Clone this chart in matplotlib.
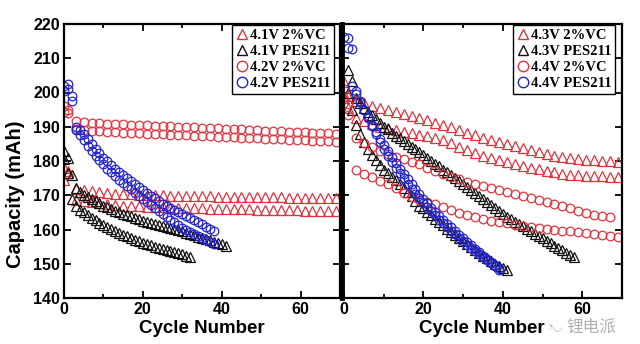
import matplotlib
matplotlib.use("Agg")
import matplotlib.pyplot as plt
from matplotlib.lines import Line2D
from matplotlib.font_manager import FontProperties

RED = "#e3323e"
BLUE = "#2424cc"
BLACK = "#111111"

# cycle numbers (red series were logged every second cycle)
cyc_step2 = [0, 1] + list(range(3, 71, 2))

# ---------------- left panel: 4.1 V / 4.2 V ----------------
vc41_a = [178, 177, 171.8, 171.4, 171.1, 170.9, 170.7, 170.5, 170.4, 170.3, 170.2, 170.1,
          170, 170, 169.9, 169.9, 169.8, 169.8, 169.7, 169.7, 169.6, 169.6, 169.6, 169.5,
          169.5, 169.5, 169.4, 169.4, 169.4, 169.3, 169.3, 169.3, 169.2, 169.2, 169.2, 169.1]
vc41_b = [174.5, 176.5, 168.6, 168.2, 167.9, 167.6, 167.4, 167.2, 167, 166.9, 166.8, 166.7,
          166.6, 166.5, 166.4, 166.3, 166.3, 166.2, 166.2, 166.1, 166.1, 166, 166, 165.9,
          165.9, 165.8, 165.8, 165.7, 165.7, 165.6, 165.6, 165.5, 165.5, 165.4, 165.4, 165.3]
vc42_a = [196, 195, 191.6, 191.4, 191.2, 191, 190.9, 190.8, 190.7, 190.6, 190.5, 190.4,
          190.3, 190.2, 190.1, 190, 189.9, 189.8, 189.7, 189.6, 189.5, 189.4, 189.3, 189.2,
          189.1, 189, 188.9, 188.8, 188.7, 188.6, 188.5, 188.4, 188.3, 188.2, 188.1, 188]
vc42_b = [194.4, 194, 189.3, 189.1, 188.9, 188.7, 188.5, 188.4, 188.3, 188.2, 188.1, 188,
          187.9, 187.8, 187.7, 187.6, 187.5, 187.4, 187.3, 187.2, 187.1, 187, 186.9, 186.8,
          186.7, 186.6, 186.5, 186.4, 186.3, 186.2, 186.1, 186, 185.9, 185.8, 185.7, 185.6]
pes41_a = [183, 181, 176, 172, 171, 170.2, 169.5, 168.8, 168.2, 167.6, 167, 166.5, 166,
           165.5, 165, 164.6, 164.2, 163.8, 163.4, 163, 162.6, 162.3, 162, 161.6, 161.3,
           161, 160.7, 160.4, 160.1, 159.8, 159.5, 159.1, 158.7, 158.3, 157.9, 157.5,
           157.2, 156.8, 156.4, 156.0, 155.7, 155.3]
pes41_b = [180.5, 176.5, 169, 166.8, 165.8, 165, 164.2, 163.4, 162.7, 162, 161.3, 160.7,
           160.1, 159.5, 159, 158.5, 158, 157.5, 157, 156.6, 156.2, 155.8, 155.4, 155,
           154.6, 154.3, 154, 153.7, 153.4, 153.1, 152.8, 152.4, 151.9]
pes42_a = [202, 202.5, 199, 190, 189, 188, 186.5, 185, 183.6, 182.3, 181, 179.9, 178.8,
           177.8, 176.9, 176, 175.1, 174.2, 173.3, 172.4, 171.5, 170.7, 169.9, 169.1,
           168.3, 167.5, 166.9, 166.3, 165.7, 165.1, 164.5, 163.9, 163.3, 162.7, 162.1,
           161.5, 160.8, 160.1, 159.5]
pes42_b = [200.5, 201, 197.5, 189, 187.5, 186, 184.5, 183, 181.6, 180.3, 179, 177.8,
           176.7, 175.6, 174.5, 173.5, 172.6, 171.7, 170.8, 169.9, 169, 168.1, 167.2,
           166.3, 165.4, 164.5, 163.7, 162.9, 162.1, 161.3, 160.5, 159.9, 159.3, 158.7,
           158.1, 157.5, 156.9, 156.3, 155.8]

# ---------------- right panel: 4.3 V / 4.4 V ----------------
vc43_a = [203, 199, 197.5, 196.8, 196.1, 195.5, 194.9, 194.3, 193.7, 193.1, 192.5, 191.9,
          191.2, 190.5, 189.8, 189.1, 188.3, 187.5, 186.8, 186.1, 185.5, 184.9, 184.3,
          183.7, 183.1, 182.5, 182, 181.5, 181.1, 180.9, 180.6, 180.4, 180.2, 180, 179.9, 179.8]
vc43_b = [198.5, 195.5, 192.5, 191.7, 190.8, 190, 189.5, 189, 188.6, 188.1, 187.6, 187.2,
          186.8, 186.2, 185.2, 184.2, 183.3, 182.4, 181.5, 180.8, 180.2, 179.6, 179.1,
          178.6, 178.1, 177.6, 177.1, 176.7, 176.3, 176, 175.8, 175.7, 175.6, 175.5, 175.4, 175.4]
vc44_a = [201, 196.5, 186.6, 185.3, 184.1, 182.9, 182, 181.3, 180.6, 179.8, 179, 178.1,
          177.2, 176.2, 175.3, 174.6, 174, 173.4, 172.8, 172.2, 171.6, 171, 170.3, 169.7,
          169.1, 168.6, 168, 167.4, 166.8, 166.2, 165.5, 164.8, 164.1, 163.8, 163.7]
vc44_b = [198, 193.5, 177.3, 176.3, 175.4, 174.2, 173.2, 172, 170.6, 169.5, 168.7, 168,
          167.4, 166.7, 165.6, 164.8, 164.1, 163.6, 163.1, 162.6, 162.2, 161.8, 161.4,
          161.1, 160.8, 160.5, 160.2, 159.9, 159.7, 159.5, 159.3, 159, 158.7, 158.4, 158.2, 157.9]
pes43_a = [206.5, 203.3, 198.5, 196.8, 195.6, 194.4, 193.3, 192.2, 191.1, 190, 189.2,
           188.3, 187.4, 186.6, 185.8, 185, 184.2, 183.4, 182.6, 181.8, 181, 180.1, 179.2,
           178.4, 177.5, 176.7, 175.8, 174.9, 174.1, 173.2, 172.3, 171.5, 170.6, 169.8,
           168.9, 168.0, 167.2, 166.3, 165.5, 164.6, 163.7, 163.0, 162.3, 161.6, 160.9,
           160.2, 159.5, 158.8, 158.1, 157.4, 156.7, 156.0, 155.3, 154.6, 153.9, 153.2,
           152.5, 151.9]
pes43_b = [200, 195, 190.5, 188, 185.5, 183.5, 181.8, 180.2, 178.8, 177.4, 176.4, 175.4,
           174.4, 173.3, 172.2, 171, 169.7, 168.3, 167, 166.2, 165.1, 164.1, 163.1, 162.1,
           161.2, 160.2, 159.3, 158.4, 157.5, 156.6, 155.7, 154.9, 154, 153.2, 152.4,
           151.6, 150.8, 150, 149.3, 148.7, 148.1]
pes44_a = [216.3, 213, 202, 199.5, 197.2, 195, 192.8, 190.6, 188.5, 186.5, 184.6, 182.8,
           181.1, 179.4, 177.8, 176.2, 174.7, 173.2, 171.8, 170.4, 169, 167.7, 166.4,
           165.2, 164, 162.8, 161.7, 160.6, 159.5, 158.4, 157.4, 156.4, 155.4, 154.4,
           153.4, 152.4, 151.4, 150.5, 149.6, 148.7]
pes44_b = [216, 212.8, 200.5, 197.6, 195, 192.5, 190.1, 187.8, 185.6, 183.5, 181.6, 179.8,
           178.1, 176.5, 174.9, 173.4, 171.9, 170.5, 169.1, 167.8, 166.5, 165.3, 164.1,
           162.9, 161.8, 160.7, 159.6, 158.6, 157.6, 156.6, 155.6, 154.6, 153.7, 152.8,
           151.9, 151, 150.1, 149.2, 148.3]

left_labels = ["4.1V 2%VC", "4.1V PES211", "4.2V 2%VC", "4.2V PES211"]
right_labels = ["4.3V 2%VC", "4.3V PES211", "4.4V 2%VC", "4.4V PES211"]
styles = [("^", RED), ("^", BLACK), ("o", RED), ("o", BLUE)]


def pts(ax, x, y, marker, color):
    ax.plot(x, y, ls="none", marker=marker, mfc="none", mec=color,
            ms=6.8 if marker == "^" else 6.2, mew=0.9)


def style_axes(ax):
    ax.set_ylim(140, 220)
    ax.set_yticks(range(140, 221, 10))
    ax.set_xticks([0, 20, 40, 60])
    ax.set_xticks([10, 30, 50, 70], minor=True)
    ax.tick_params(which="both", direction="in", top=True, right=True, width=1.3)
    ax.tick_params(which="major", length=5, labelsize=11.5, pad=3)
    ax.tick_params(which="minor", length=3)
    for s in ax.spines.values():
        s.set_linewidth(1.6)
    for lab in ax.get_xticklabels() + ax.get_yticklabels():
        lab.set_fontweight("bold")
    ax.set_xlabel("Cycle Number", fontsize=13.5, fontweight="bold", labelpad=2)


def add_legend(ax, labels, xa):
    handles = [Line2D([], [], ls="none", marker=m, mfc="none", mec=c, ms=7.5, mew=1)
               for m, c in styles]
    leg = ax.legend(handles, labels, loc="upper right", bbox_to_anchor=(xa, 0.997),
                    borderaxespad=0, fancybox=False, edgecolor="black", framealpha=1,
                    prop=FontProperties(family="Liberation Serif", weight="bold", size=10.5),
                    borderpad=0.25, labelspacing=0.2, handlelength=0.8, handletextpad=0.15)
    leg.get_frame().set_linewidth(1.0)


fig = plt.figure(figsize=(6.4, 3.44), dpi=100)
plt.rcParams["font.family"] = ["Liberation Sans", "DejaVu Sans"]

ax1 = fig.add_axes([64 / 640, 46 / 344, 276 / 640, 274 / 344])
pts(ax1, cyc_step2, vc41_a, "^", RED)
pts(ax1, cyc_step2, vc41_b, "^", RED)
pts(ax1, list(range(len(pes41_a))), pes41_a, "^", BLACK)
pts(ax1, list(range(len(pes41_b))), pes41_b, "^", BLACK)
pts(ax1, cyc_step2, vc42_a, "o", RED)
pts(ax1, cyc_step2, vc42_b, "o", RED)
pts(ax1, list(range(len(pes42_a))), pes42_a, "o", BLUE)
pts(ax1, list(range(len(pes42_b))), pes42_b, "o", BLUE)
ax1.set_xlim(0, 70)
style_axes(ax1)
ax1.set_ylabel("Capacity (mAh)", fontsize=14.5, fontweight="bold")
ax1.yaxis.set_label_coords(-0.14, 0.38)
add_legend(ax1, left_labels, 0.978)

ax2 = fig.add_axes([342 / 640, 46 / 344, 280 / 640, 274 / 344])
pts(ax2, cyc_step2, vc43_a, "^", RED)
pts(ax2, cyc_step2, vc43_b, "^", RED)
pts(ax2, list(range(1, len(pes43_a) + 1)), pes43_a, "^", BLACK)
pts(ax2, list(range(1, len(pes43_b) + 1)), pes43_b, "^", BLACK)
pts(ax2, cyc_step2[:len(vc44_a)], vc44_a, "o", RED)
pts(ax2, cyc_step2, vc44_b, "o", RED)
pts(ax2, list(range(len(pes44_a))), pes44_a, "o", BLUE)
pts(ax2, list(range(1, len(pes44_b) + 1)), pes44_b, "o", BLUE)
ax2.set_xlim(-0.5, 70)
style_axes(ax2)
ax2.tick_params(labelleft=False)
ax2.spines["left"].set_linewidth(3.5)
add_legend(ax2, right_labels, 0.975)

# watermark (sits just under the "60" tick label)
fig.text(0.885, 0.05, "锂电派", fontsize=12, color="#b0b0b0", ha="left", va="center",
         family=["Noto Sans CJK SC", "DejaVu Sans"])
fig.text(0.853, 0.05, "◔◡", fontsize=8, color="#b8b8b8", ha="left", va="center")

fig.savefig("out.png", dpi=100)
